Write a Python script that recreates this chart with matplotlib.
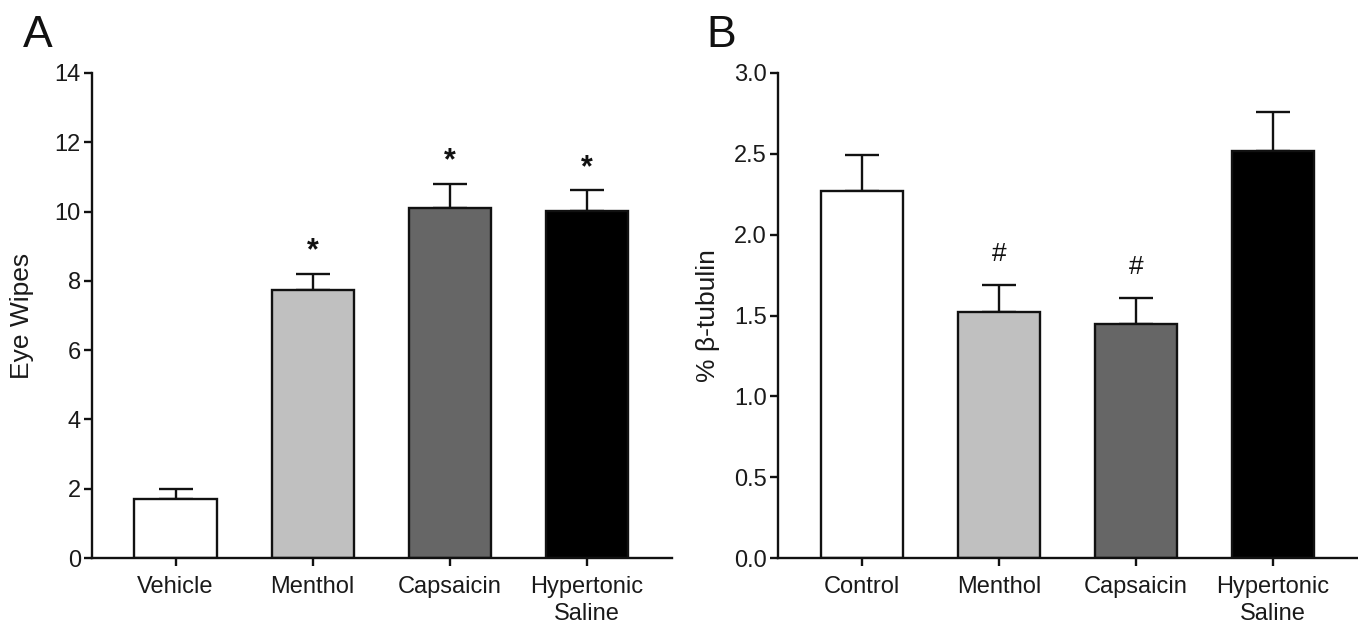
import matplotlib
matplotlib.use("Agg")
import matplotlib.pyplot as plt
import numpy as np

plt.rcParams['font.family'] = ['Liberation Sans', 'DejaVu Sans']

# Panel A data
cats_a = ["Vehicle", "Menthol", "Capsaicin", "Hypertonic\nSaline"]
wipes = [1.7, 7.75, 10.1, 10.02]
wipes_sem = [0.3, 0.45, 0.7, 0.6]
marks_a = ["", "*", "*", "*"]

# Panel B data
cats_b = ["Control", "Menthol", "Capsaicin", "Hypertonic\nSaline"]
tubulin = [2.27, 1.52, 1.45, 2.52]
tubulin_sem = [0.22, 0.17, 0.16, 0.24]
marks_b = ["", "#", "#", ""]

colors = ["#ffffff", "#c0c0c0", "#666666", "#000000"]

fig = plt.figure(figsize=(13.58, 6.27), dpi=100)
axA = fig.add_axes([0.0677, 0.110, 0.4271, 0.7736])
axB = fig.add_axes([0.5729, 0.110, 0.4271, 0.7736])

LW = 1.7
TXT = "#1a1a1a"

def draw(ax, cats, vals, errs, marks, ylim, yticks, ylabel, fmt, mark_fs, mark_off, mark_w):
    x = np.arange(len(cats))
    ax.bar(x, vals, width=0.6, color=colors, edgecolor="#111111", linewidth=LW,
           yerr=[np.zeros(len(vals)), errs], zorder=2,
           error_kw=dict(ecolor="#111111", elinewidth=LW, capsize=12, capthick=LW, zorder=1))
    for xi, v, e, m in zip(x, vals, errs, marks):
        if m:
            ax.annotate(m, (xi, v + e), xytext=(0, mark_off), textcoords="offset points",
                        ha="center", va="center", fontsize=mark_fs, color="#111111",
                        fontweight=mark_w)
    ax.set_xlim(-0.61, 3.62)
    ax.set_ylim(*ylim)
    ax.set_yticks(yticks)
    ax.set_yticklabels([fmt.format(t) for t in yticks])
    ax.set_xticks(x)
    ax.set_xticklabels(cats, linespacing=1.3)
    for s in ["top", "right"]:
        ax.spines[s].set_visible(False)
    for s in ["left", "bottom"]:
        ax.spines[s].set_linewidth(LW)
        ax.spines[s].set_color("#111111")
    ax.tick_params(axis="both", direction="out", length=6, width=LW, color="#111111",
                   labelsize=17, labelcolor=TXT, pad=2)
    ax.tick_params(axis="x", pad=7)
    ax.set_ylabel(ylabel, fontsize=19, color=TXT)
    ax.yaxis.set_label_coords(-0.100, 0.5)

draw(axA, cats_a, wipes, wipes_sem, marks_a, (0, 14), list(range(0, 15, 2)),
     "Eye Wipes", "{:d}", 22, 16, "bold")
draw(axB, cats_b, tubulin, tubulin_sem, marks_b, (0, 3.0), [0, 0.5, 1.0, 1.5, 2.0, 2.5, 3.0],
     "% β-tubulin", "{:.1f}", 19, 22, "normal")

fig.text(0.017, 0.925, "A", fontsize=32, color="#111111")
fig.text(0.520, 0.925, "B", fontsize=32, color="#111111")

fig.savefig("out.png", dpi=100, facecolor="white")
